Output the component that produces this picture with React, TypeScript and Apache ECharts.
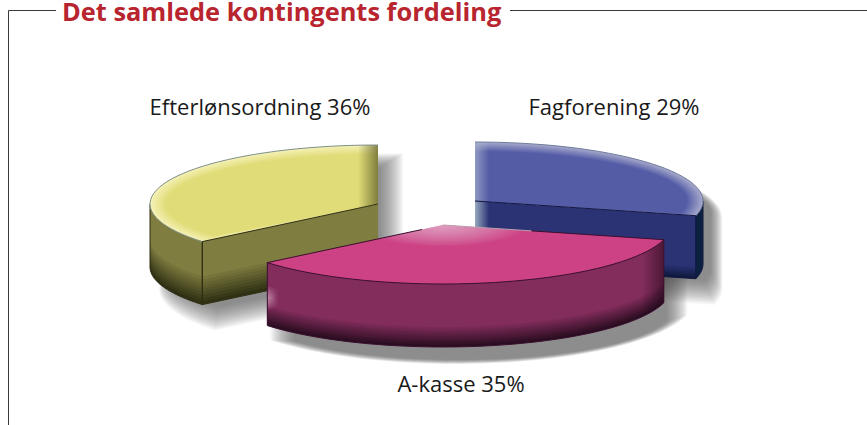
import React, { useEffect, useRef } from "react";
import * as echarts from "echarts";

const titleText = "Det samlede kontingents fordeling";
const categories = ["Efterlønsordning", "Fagforening", "A-kasse"];
const shares = [36, 29, 35];

// layout (not data)
const W = 867, H = 425;
const RX = 228, RY = 59, DEPTH = 63;
const centres = [[378, 204], [475, 201], [443, 225]];
const labelPos = [[260, 106], [614, 106], [461, 383]];

const looks = [
  { top: "#e0dc78", edge: "#f4f0b4", rim: "#7f9088", wall: "#7f7d40", low: "#2f3014", side: "#7f7d40", line: "#2e2e14", bevel: 9, band: 28, tint: { from: 358, to: 378, color: "rgba(95,95,40,0.75)" }, wallTint: null },
  { top: "#545ca6", edge: "#a3a6ca", rim: "#6f7d9c", wall: "#2c3375", low: "#0f1a3e", side: "#0c2140", line: "#12163f", bevel: 9, band: 12, tint: { from: 489, to: 475, color: "rgba(170,180,205,0.7)" }, wallTint: { from: 489, to: 475, color: "rgba(170,190,205,0.85)" } },
  { top: "#cc4285", edge: "#cc4285", rim: "#3c1030", wall: "#832d5c", low: "#2a0d20", side: "#832d5c", line: "#3a0f2e", bevel: 0, band: 20, tint: null, wallTint: null },
];

const RAD = Math.PI / 180;
const hex = (h: string) => [1, 3, 5].map((i) => parseInt(h.slice(i, i + 2), 16));
const mix = (a: string, b: string, t: number) => {
  const x = hex(a), y = hex(b);
  return `rgb(${x.map((v, i) => Math.round(v + (y[i] - v) * t)).join(",")})`;
};

function spans() {
  const total = shares.reduce((s, v) => s + v, 0);
  let a = 360 - (shares[0] / total) * 360;
  return shares.map((v) => {
    const start = a % 360;
    const sweep = (v / total) * 360;
    a = start + sweep;
    return [start, start + sweep];
  });
}

const pt = (c: number[], a: number, rx = RX, ry = RY, dy = 0) => [
  c[0] + rx * Math.sin(a * RAD),
  c[1] - ry * Math.cos(a * RAD) + dy,
];
const arc = (c: number[], a0: number, a1: number, rx = RX, ry = RY, dy = 0) => {
  const n = Math.max(2, Math.ceil(Math.abs(a1 - a0) / 3));
  const out: number[][] = [];
  for (let i = 0; i <= n; i++) out.push(pt(c, a0 + ((a1 - a0) * i) / n, rx, ry, dy));
  return out;
};

function hull(points: number[][]) {
  const p = [...points].sort((a, b) => a[0] - b[0] || a[1] - b[1]);
  const cross = (o: number[], a: number[], b: number[]) =>
    (a[0] - o[0]) * (b[1] - o[1]) - (a[1] - o[1]) * (b[0] - o[0]);
  const lo: number[][] = [], up: number[][] = [];
  for (const q of p) {
    while (lo.length > 1 && cross(lo[lo.length - 2], lo[lo.length - 1], q) <= 0) lo.pop();
    lo.push(q);
  }
  for (const q of [...p].reverse()) {
    while (up.length > 1 && cross(up[up.length - 2], up[up.length - 1], q) <= 0) up.pop();
    up.push(q);
  }
  return lo.slice(0, -1).concat(up.slice(0, -1));
}

const poly = (points: number[][], fill: any, extra: any = {}) => ({
  type: "polygon",
  silent: true,
  shape: { points },
  style: { fill, stroke: "none", ...extra },
});
const stroke = (points: number[][], color: string, width = 1) => ({
  type: "polyline",
  silent: true,
  shape: { points },
  style: { fill: "none", stroke: color, lineWidth: width },
});
const hGrad = (from: number, to: number, color: string) => ({
  type: "linear",
  global: true,
  x: from, y: 0, x2: to, y2: 0,
  colorStops: [
    { offset: 0, color: color.replace(/[\d.]+\)$/, "0)") },
    { offset: 1, color },
  ],
});

function renderShadow(params: any) {
  const i = params.dataIndex;
  const [a0, a1] = spans()[i];
  const c = centres[i];
  const all = [...arc(c, a0, a1), ...arc(c, a0, a1, RX, RY, DEPTH), c, [c[0], c[1] + DEPTH]];
  const h = hull(all);
  const cx = h.reduce((s, p) => s + p[0], 0) / h.length;
  const cy = h.reduce((s, p) => s + p[1], 0) / h.length;
  const w = Math.max(...h.map((p) => Math.abs(p[0] - cx)));
  const hh = Math.max(...h.map((p) => Math.abs(p[1] - cy)));
  const children: any[] = [];
  const steps = 18;
  for (let k = 0; k < steps; k++) {
    const d = 11 - k * 1.4; // from expanded to shrunken
    const sx = 1 + d / w, sy = 1 + d / hh;
    children.push(
      poly(
        h.map((p) => [cx + (p[0] - cx) * sx + 14, cy + (p[1] - cy) * sy + 15]),
        "rgba(70,70,70,0.05)"
      )
    );
  }
  return { type: "group", children };
}

function renderSlice(params: any) {
  const i = params.dataIndex;
  const [a0, a1] = spans()[i];
  const c = centres[i];
  const L = looks[i];
  const children: any[] = [];

  // band between an upper and a lower edge, shaded toward the bottom
  const wall = (upper: number[][], base: string, low: string) => {
    const n = 9;
    const lower = upper.map((p) => [p[0], p[1] + DEPTH]);
    children.push(poly([...upper, ...[...lower].reverse()], low));
    for (let k = 1; k <= n; k++) {
      const lift = (L.band * k) / n;
      const raised = lower.map((p) => [p[0], p[1] - lift]);
      children.push(poly([...upper, ...[...raised].reverse()], mix(low, base, k / n)));
    }
  };

  // radial walls that face the viewer
  if (a0 > 180 && a0 < 360) {
    const e = pt(c, a0);
    wall([c, e], L.wall, L.low);
  }
  if (a1 > 0 && a1 < 180) {
    const e = pt(c, a1);
    wall([c, e], L.wall, L.low);
    if (L.wallTint) {
      const t = L.wallTint;
      children.push(poly([c, e, [e[0], e[1] + DEPTH], [c[0], c[1] + DEPTH]], hGrad(t.from, t.to, t.color)));
    }
  }
  // outer wall in the front half
  const f0 = Math.max(a0, 90), f1 = Math.min(a1, 270);
  if (f1 > f0) {
    const u = arc(c, f0, f1);
    if (L.side !== L.wall) {
      children.push(poly([...u, ...[...u].reverse().map((p) => [p[0], p[1] + DEPTH])], L.side));
    } else {
      wall(u, L.wall, L.low);
    }
    if (!L.bevel) {
      // darkening at the right end and a soft highlight at the left end of the front wall
      const full = [...u, ...[...u].reverse().map((p) => [p[0], p[1] + DEPTH])];
      const right = pt(c, f0)[0], left = pt(c, f1)[0];
      children.push(poly(full, hGrad(right - 22, right, "rgba(40,10,30,0.6)")));
      const ly = pt(c, f1)[1];
      for (let k = 0; k < 5; k++) {
        children.push(poly(
          [[left, ly + 24 + k * 2.5], [left + 12 - k, ly + 27 + k * 2], [left + 12 - k, ly + 44 - k * 2], [left, ly + 47 - k * 2.5]],
          hGrad(left + 12 - k, left + 1, "rgba(235,200,220,0.14)")
        ));
      }
    }
    const d0 = pt(c, f0, RX, RY, DEPTH), d1 = pt(c, f1, RX, RY, DEPTH);
    children.push(stroke(arc(c, f0, f1, RX, RY, DEPTH), L.line));
    children.push(stroke([pt(c, f0), d0], L.line));
    children.push(stroke([pt(c, f1), d1], L.line));
  }

  // top face with a soft rim along the arc
  const face = (rx: number, ry: number) => [c, ...arc(c, a0, a1, rx, ry)];
  children.push(poly(face(RX, RY), L.bevel ? L.edge : L.top));
  const n = 8;
  for (let k = 1; k <= n && L.bevel; k++) {
    const d = (L.bevel * k) / n;
    children.push(poly(face(RX - d * 1.7, RY - d), mix(L.edge, L.top, k / n)));
  }
  if (L.tint) {
    children.push(poly(face(RX, RY), hGrad(L.tint.from, L.tint.to, L.tint.color)));
  }
  if (!L.bevel) {
    // glossy patch at the tip of the slice
    for (let k = 18; k >= 1; k--) {
      const s = k * 0.02;
      children.push(poly(face(RX * s, RY * s), "rgba(255,255,255,0.04)"));
    }
  }
  children.push(stroke(arc(c, a0, a1), L.rim));
  if (a0 > 180 && a0 < 360) children.push(stroke([c, pt(c, a0)], L.line));
  if (a1 > 0 && a1 < 180) children.push(stroke([c, pt(c, a1)], L.line));
  if (!L.bevel) {
    // the edge fades to grey toward the tip on the left side
    const e0 = pt(c, a0), e1 = pt(c, a1);
    const part = (t: number) => [e0[0] + (c[0] - e0[0]) * t, e0[1] + (c[1] - e0[1]) * t];
    children.push(stroke([e0, part(0.6)], L.line));
    children.push(stroke([part(0.6), c], "#b9a0ad"));
    children.push(stroke([[c[0] + (e1[0] - c[0]) * 0.12, c[1] + (e1[1] - c[1]) * 0.12], e1], L.line));
  }
  if (a0 > 180 && a0 < 360) {
    const e = pt(c, a0);
    children.push(stroke([e, [e[0], e[1] + DEPTH]], L.line));
    children.push(stroke([[e[0], e[1] + DEPTH], [c[0], c[1] + DEPTH]], L.line));
  }
  if (a1 > 0 && a1 < 180) {
    const e = pt(c, a1);
    children.push(stroke([[e[0], e[1] + DEPTH], [c[0], c[1] + DEPTH]], L.line));
  }
  return { type: "group", children };
}

export default function App() {
  const ref = useRef<HTMLDivElement>(null);
  useEffect(() => {
    const chart = echarts.init(ref.current!, undefined, { renderer: "svg" });
    const data = categories.map((name, i) => ({ name, value: shares[i] }));
    const frame = "#3a3a3a";
    const line = (x1: number, y1: number, x2: number, y2: number) => ({
      type: "line",
      shape: { x1, y1, x2, y2 },
      style: { stroke: frame, lineWidth: 1 },
      silent: true,
    });
    chart.setOption({
      animation: false,
      backgroundColor: "#ffffff",
      series: [
        { type: "custom", coordinateSystem: "none", z: 1, data, renderItem: renderShadow, silent: true, clip: false },
        { type: "custom", coordinateSystem: "none", z: 2, data, renderItem: renderSlice, silent: true, clip: false },
      ],
      graphic: [
        line(8.5, 10.5, 56, 10.5),
        line(8.5, 10.5, 8.5, 425),
        line(510, 10.5, 867, 10.5),
        {
          type: "text",
          x: 62,
          y: 11,
          silent: true,
          style: {
            text: titleText,
            fill: "#b8252f",
            font: 'bold 25.4px "Open Sans", "Noto Sans", sans-serif',
            textAlign: "left",
            textVerticalAlign: "middle",
          },
        },
        ...categories.map((name, i) => ({
          type: "text",
          x: labelPos[i][0],
          y: labelPos[i][1],
          silent: true,
          z: 10,
          style: {
            text: `${name} ${shares[i]}%`,
            fill: "#1a1a1a",
            font: '22px "Open Sans", "Noto Sans", sans-serif',
            textAlign: "center",
            textVerticalAlign: "middle",
          },
        })),
      ],
    });
    return () => chart.dispose();
  }, []);
  return <div ref={ref} style={{ position: "fixed", left: 0, top: 0, width: W, height: H }} />;
}
